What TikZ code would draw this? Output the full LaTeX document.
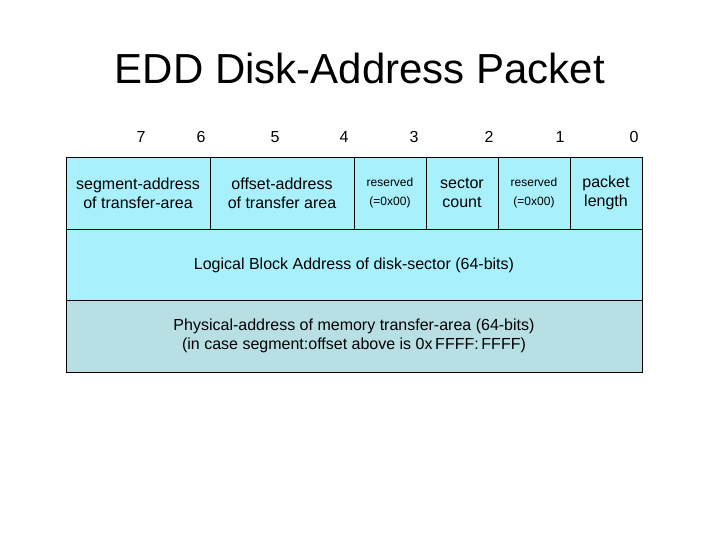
\documentclass[tikz,border=0pt]{standalone}
\usepackage{fontspec}
\setmainfont{Liberation Sans}
\begin{document}
\begin{tikzpicture}[x=1pt,y=-1pt,
  cell/.style={draw=black,line width=0.8pt,fill=cyanA,inner sep=0pt},
  txt/.style={align=center,font=\fontsize{16}{19}\selectfont},
  small/.style={align=center,font=\fontsize{12}{19}\selectfont},
  num/.style={font=\fontsize{16}{19}\selectfont}]
\definecolor{cyanA}{HTML}{A8F0FC}
\definecolor{cyanB}{HTML}{B8E0E4}
\useasboundingbox (0,0) rectangle (720,540);
\node[font=\fontsize{42}{48}\selectfont] (title) at (360,68) {EDD Disk-Address Packet};
\foreach \n/\x in {7/141,6/201,5/275,4/344,3/414,2/489,1/560,0/634}
  \node[num] (n\n) at (\x,137) {\n};
\fill[cyanA] (66,157) rectangle (642,300);
\fill[cyanB] (66,300) rectangle (642,372);
\draw[line width=0.8pt] (66,157) rectangle (642,372);
\draw[line width=0.8pt] (66,229) -- (642,229) (66,300) -- (642,300);
\foreach \x in {210,354,426,498,570} \draw[line width=0.8pt] (\x,157) -- (\x,229);
\node[txt] (c1) at (138,193) {segment-address\\of transfer-area};
\node[txt] (c2) at (282,193) {offset-address\\of transfer area};
\node[small] (c3) at (390,193) {reserved\\(=0x00)};
\node[txt] (c4) at (462,193) {sector\\count};
\node[small] (c5) at (534,193) {reserved\\(=0x00)};
\node[txt] (c6) at (606,193) {packet\\length};
\node[txt] (r2) at (354,265) {Logical Block Address of disk-sector (64-bits)};
\node[txt] (r3) at (354,336) {Physical-address of memory transfer-area (64-bits)\\(in case segment:offset above is 0x\,FFFF:\,FFFF)};
\end{tikzpicture}
\end{document}
